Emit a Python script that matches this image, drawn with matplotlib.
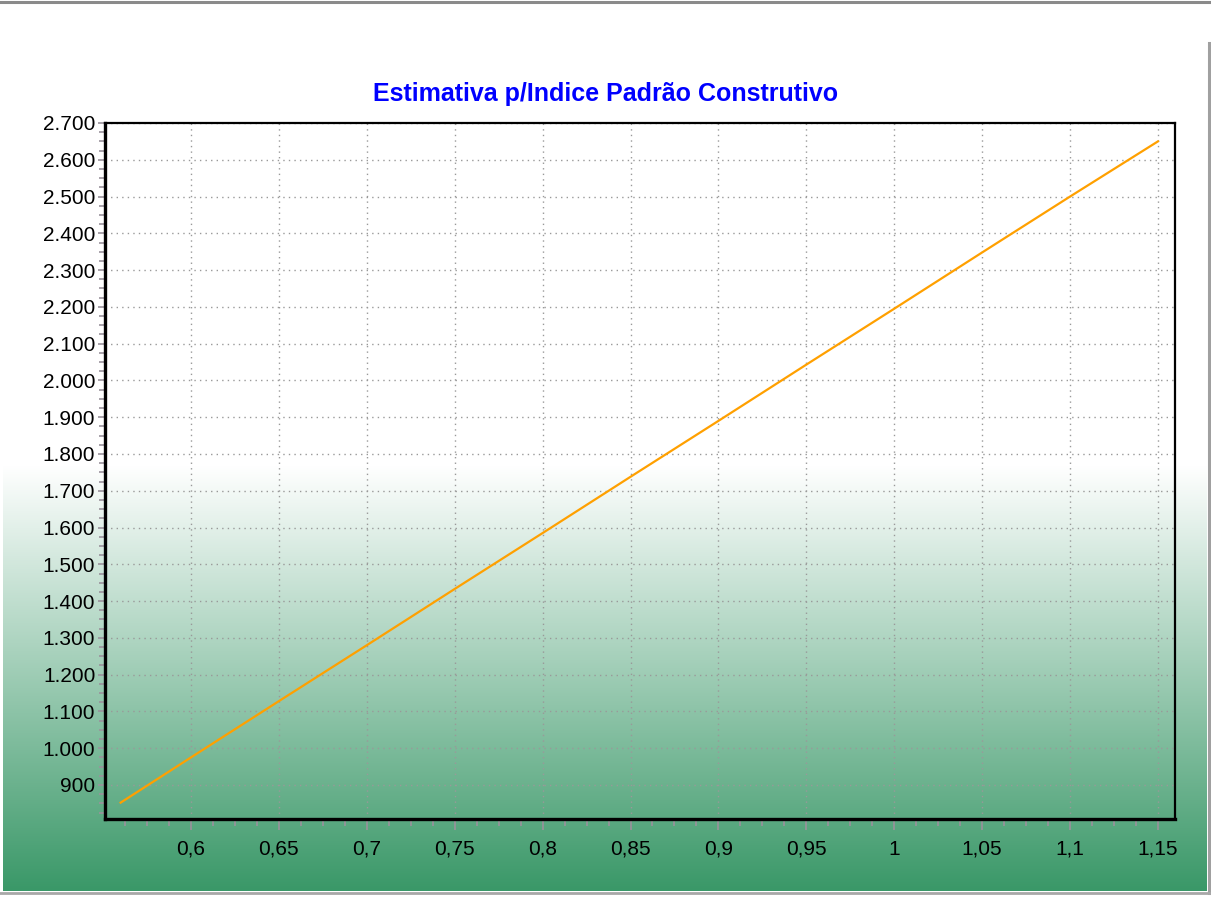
import numpy as np
import matplotlib.pyplot as plt
from matplotlib.ticker import FuncFormatter, MultipleLocator
from matplotlib.colors import LinearSegmentedColormap

# Índice padrão construtivo x valor estimado
indice = [0.56, 0.60, 0.65, 0.70, 0.75, 0.80, 0.85, 0.90, 0.95, 1.00, 1.05, 1.10, 1.15]
valor = [852, 975, 1128, 1280, 1433, 1585, 1738, 1890, 2043, 2195, 2348, 2500, 2650]

titulo = "Estimativa p/Indice Padrão Construtivo"

plt.rcParams['font.family'] = ['Liberation Sans', 'DejaVu Sans']

W, H = 1211, 899
fig = plt.figure(figsize=(W / 100, H / 100), dpi=100)
fig.patch.set_facecolor('white')

# Fundo em degradê (branco -> verde) atrás de tudo
bg = fig.add_axes([0, 0, 1, 1], zorder=-10)
bg.set_xlim(0, W)
bg.set_ylim(H, 0)
bg.axis('off')
cmap = LinearSegmentedColormap.from_list('fundo', ['#ffffff', '#3a9868'])
grad = np.linspace(0, 1, 256).reshape(-1, 1)
bg.imshow(grad, cmap=cmap, aspect='auto', extent=(3, 1207, 891, 465), zorder=0)
# bordas cinzas da janela
bg.plot([0, W], [2, 2], color='#8a8a8a', lw=2.2, zorder=1)
bg.plot([1209, 1209], [43, 893], color='#a0a0a0', lw=2.2, zorder=1)
bg.plot([0, 1209], [893, 893], color='#a8a8a8', lw=2.0, zorder=1)

ax = fig.add_axes([105 / W, 1 - 819 / H, (1175 - 105) / W, (819 - 123) / H])
ax.patch.set_alpha(0)

ax.plot(indice, valor, color='#ffa000', lw=1.6)

ax.set_xlim(0.5511, 1.1597)
ax.set_ylim(807.5, 2700)

ax.xaxis.set_major_locator(MultipleLocator(0.05))
ax.xaxis.set_minor_locator(MultipleLocator(0.0125))
ax.yaxis.set_major_locator(MultipleLocator(100))
ax.yaxis.set_minor_locator(MultipleLocator(25))


def fmt_x(v, pos):
    s = f"{v:.2f}".rstrip('0').rstrip('.')
    return s.replace('.', ',')


def fmt_y(v, pos):
    if v < 900:
        return ''
    return f"{int(round(v)):,}".replace(',', '.')


ax.xaxis.set_major_formatter(FuncFormatter(fmt_x))
ax.yaxis.set_major_formatter(FuncFormatter(fmt_y))

ax.grid(True, which='major', linestyle=(0, (1, 3)), color='#999999', lw=1.0)

tick_c = '#9a929c'
ax.tick_params(axis='x', which='major', length=8, width=1.2, color=tick_c,
               labelsize=15, pad=7)
ax.tick_params(axis='x', which='minor', length=5, width=1.2, color=tick_c)
ax.tick_params(axis='y', which='major', length=5, width=1.2, color=tick_c,
               labelsize=15, pad=2)
ax.tick_params(axis='y', which='minor', length=4, width=1.2, color=tick_c)

for s in ['left', 'bottom']:
    ax.spines[s].set_linewidth(2.4)
for s in ['top', 'right']:
    ax.spines[s].set_linewidth(1.6)
for s in ax.spines.values():
    s.set_color('black')

fig.text(0.5, 1 - 94 / H, titulo, color='#0000ff', fontsize=18,
         fontweight='bold', ha='center', va='center')

fig.savefig('out.png', dpi=100)
